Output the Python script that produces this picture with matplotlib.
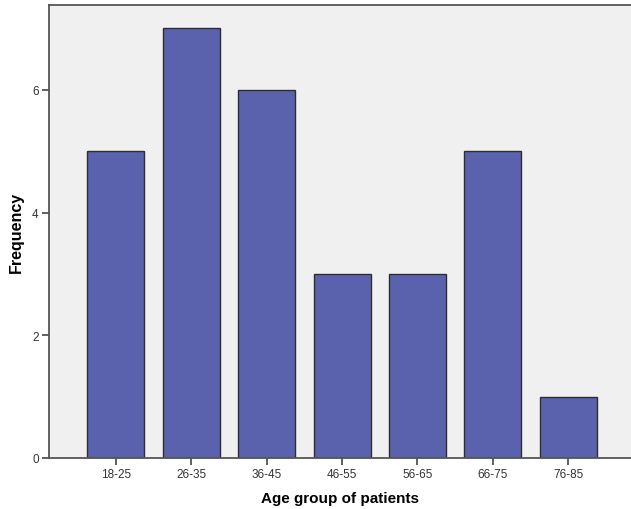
import matplotlib.pyplot as plt
import numpy as np

plt.rcParams['font.family'] = ['Liberation Sans', 'DejaVu Sans']

# age groups and counts
age_groups = ['18-25', '26-35', '36-45', '46-55', '56-65', '66-75', '76-85']
frequency = [5, 7, 6, 3, 3, 5, 1]
y_ticks = [0, 2, 4, 6]

fig = plt.figure(figsize=(6.31, 5.10), dpi=100)
ax = fig.add_axes([0.0769, 0.1, 0.9231, 0.888])
ax.set_facecolor('#f0f0f0')

x = np.arange(len(age_groups))
ax.bar(x, frequency, width=0.755, color='#5a62ad', edgecolor='#2e2e2e', linewidth=1.0, zorder=2)

ax.set_xlim(-0.89, 6.83)
ax.set_ylim(0, 7.38)
ax.set_xticks(x)
ax.set_xticklabels(age_groups)
ax.set_yticks(y_ticks)

ax.tick_params(axis='both', direction='out', length=5, width=1.2, color='#444444',
               labelsize=8.5, labelcolor='#333333', pad=2)
for side in ['left', 'bottom', 'top']:
    ax.spines[side].set_color('#555555')
    ax.spines[side].set_linewidth(1.3)
ax.spines['right'].set_visible(False)

ax.set_xlabel('Age group of patients', fontsize=11, fontweight='bold', labelpad=8)
ax.set_ylabel('Frequency', fontsize=11.5, fontweight='bold', labelpad=6)

plt.savefig('out.png', dpi=100)
